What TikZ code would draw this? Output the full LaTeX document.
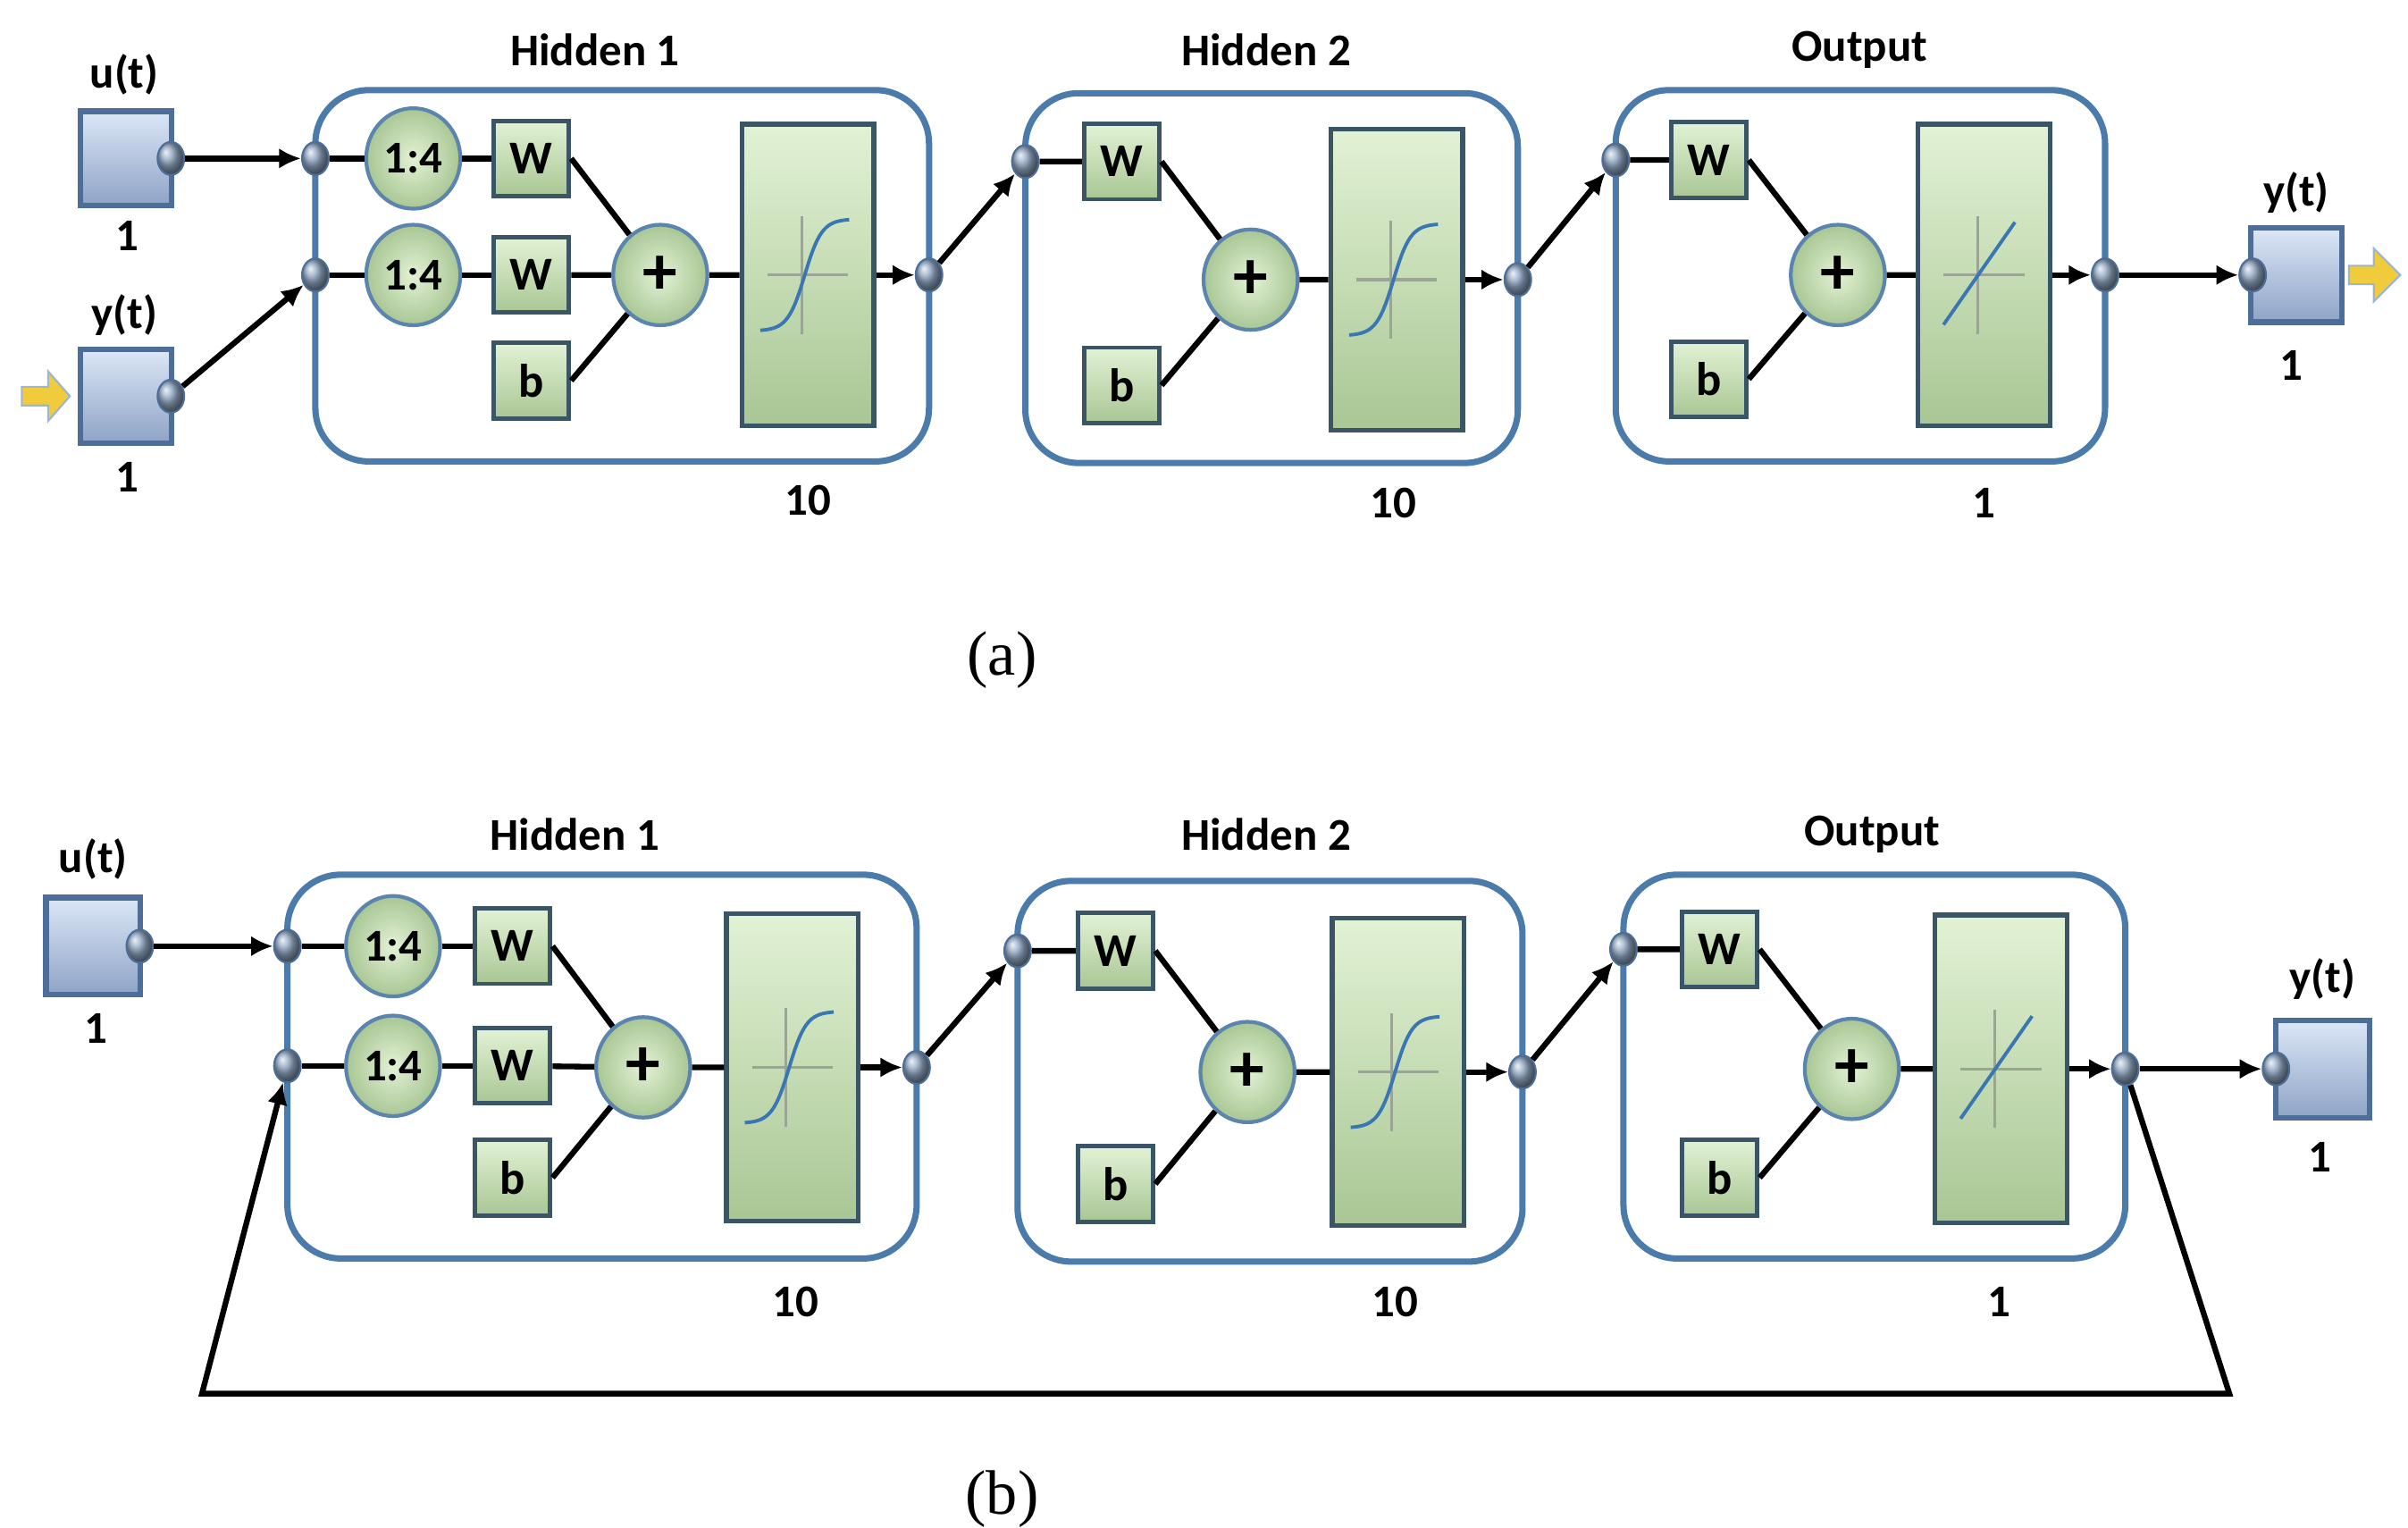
\documentclass[tikz,border=0pt]{standalone}
\usepackage{fontspec}
\setmainfont{Carlito}
\newfontfamily\capfont{Liberation Serif}
\usepackage{tikz}
\usetikzlibrary{arrows.meta,shapes.geometric}
\definecolor{frameblue}{HTML}{4B7BAA}
\definecolor{edgeblue}{HTML}{5B84AE}
\definecolor{boxedge}{HTML}{3A5566}
\definecolor{greentop}{HTML}{E2F2D5}
\definecolor{greenbot}{HTML}{A9C694}
\definecolor{iotop}{HTML}{DCE7F7}
\definecolor{iobot}{HTML}{8EA3C6}
\definecolor{ioedge}{HTML}{4C6E98}
\definecolor{portfill}{HTML}{8FA6C2}
\definecolor{sigblue}{HTML}{3A76B2}
\definecolor{axisgray}{HTML}{9AA595}
\definecolor{arrowyellow}{HTML}{F0CC3C}
\tikzset{
  lbl/.style={font=\fontsize{14.5}{16}\selectfont\bfseries, inner sep=0pt},
  sublabel/.style={font=\capfont\fontsize{20}{24}\selectfont, inner sep=0pt},
  conn/.style={line width=1.8pt, black},
  tip/.style={-{Latex[length=7pt,width=6.5pt]}},
  layerframe/.style={draw=frameblue, line width=2pt, rounded corners=17pt},
  port/.style={ellipse, minimum width=8.5pt, minimum height=10.5pt, inner sep=0pt, draw=ioedge, line width=0.6pt, ball color=portfill},
  roundbox/.style={ellipse, minimum width=30pt, minimum height=32pt, inner sep=0pt, draw=edgeblue, line width=1.2pt, inner color=greentop, outer color=greenbot, font=\fontsize{14.5}{16}\selectfont\bfseries},
  sumnode/.style={roundbox, font=\fontsize{22}{22}\selectfont\bfseries},
  wbox/.style={rectangle, minimum width=24pt, minimum height=24pt, inner sep=0pt, draw=boxedge, line width=1.4pt, top color=greentop, bottom color=greenbot, font=\fontsize{15}{16}\selectfont\bfseries},
  tfbox/.style={rectangle, minimum width=42pt, minimum height=96pt, inner sep=0pt, draw=boxedge, line width=1.5pt, top color=greentop, bottom color=greenbot},
  iobox/.style={rectangle, minimum width=29pt, minimum height=30pt, inner sep=0pt, draw=ioedge, line width=1.8pt, top color=iotop, bottom color=iobot},
  yarrow/.style={fill=arrowyellow, draw=edgeblue!60, line width=0.6pt},
  axisline/.style={axisgray, line width=0.9pt},
  sigline/.style={sigblue, line width=1.1pt}
}
\newcommand\tansig[1]{\begin{scope}[shift={(#1.center)}]
  \draw[axisline] (-26,0) -- (26,0) (-4,-38) -- (-4,38);
  \draw[sigline] plot[domain=-2.6:2.6,samples=40] ({-2+11*\x},{-36*tanh(\x)});
\end{scope}}
\newcommand\purelin[1]{\begin{scope}[shift={(#1.center)}]
  \draw[axisline] (-26,0) -- (26,0) (-4,-38) -- (-4,38);
  \draw[sigline] (-26,32) -- (20,-34);
\end{scope}}

\begin{document}
\begin{tikzpicture}[x=0.01739cm, y=-0.01739cm]
		%%%%% START %%%%%
		\useasboundingbox (0,0) rectangle (1550,983);
		
		%%%%% (a) %%%%%
		\draw[layerframe] (203,58) rectangle (598,297);
		\draw[layerframe] (660,60) rectangle (977,298);
		\draw[layerframe] (1040,58) rectangle (1355,297);
		
		\node[iobox] (ua) at (81,102) {};
		\node[port] (uao) at (110,102) {};
		\node[lbl] (ua-name) at (80,48) {u(t)};
		\node[lbl] (ua-size) at (82,152) {1};
		\node[iobox] (ya) at (81,255) {};
		\node[port] (yao) at (110,255) {};
		\node[lbl] (ya-name) at (80,203) {y(t)};
		\node[lbl] (ya-size) at (82,307) {1};
		\draw[yarrow] (14,249) -- (31,249) -- (31,239) -- (45,255) -- (31,271) -- (31,261) -- (14,261) -- cycle;
		
		\node[lbl] (h1a-title) at (383,32) {Hidden 1};
		\node[lbl] (h1a-size) at (520,322) {10};
		\node[roundbox] (d1a) at (266,102) {1:4};
		\node[roundbox] (d2a) at (266,177) {1:4};
		\node[wbox] (w1a) at (342,102) {W};
		\node[wbox] (w2a) at (342,177) {W};
		\node[wbox] (b1a) at (342,245) {b};
		\node[sumnode] (s1a) at (425,177) {+};
		\node[tfbox] (tf1a) at (520,177) {};
		\tansig{tf1a}
		\node[port] (p1a) at (203,102) {};
		\node[port] (p2a) at (203,177) {};
		\node[port] (o1a) at (598,177) {};
		
		\node[lbl] (h2a-title) at (815,32) {Hidden 2};
		\node[lbl] (h2a-size) at (897,324) {10};
		\node[wbox] (w3a) at (722,104) {W};
		\node[wbox] (b2a) at (722,248) {b};
		\node[sumnode] (s2a) at (805,180) {+};
		\node[tfbox] (tf2a) at (899,180) {};
		\tansig{tf2a}
		\node[port] (p3a) at (660,104) {};
		\node[port] (o2a) at (977,180) {};
		
		\node[lbl] (h3a-title) at (1197,32) {Output};
		\node[lbl] (h3a-size) at (1277,324) {1};
		\node[wbox] (w4a) at (1100,103) {W};
		\node[wbox] (b3a) at (1100,244) {b};
		\node[sumnode] (s3a) at (1183,177) {+};
		\node[tfbox] (tf3a) at (1277,177) {};
		\purelin{tf3a}
		\node[port] (p4a) at (1040,103) {};
		\node[port] (o3a) at (1355,177) {};
		
		\node[iobox] (youta) at (1478,177) {};
		\node[port] (youtai) at (1450,177) {};
		\node[lbl] (youta-name) at (1478,124) {y(t)};
		\node[lbl] (youta-size) at (1475,235) {1};
		\draw[yarrow] (1512,171) -- (1528,171) -- (1528,160) -- (1545,177) -- (1528,194) -- (1528,183) -- (1512,183) -- cycle;
		
		\draw[conn,tip] (uao) -- (p1a);
		\draw[conn,tip] (yao) -- (p2a);
		\draw[conn] (p1a) -- (d1a) (d1a) -- (w1a) (p2a) -- (d2a) (d2a) -- (w2a);
		\draw[conn] (w1a.east) -- (s1a) (w2a) -- (s1a) (b1a.east) -- (s1a) (s1a) -- (tf1a);
		\draw[conn,tip] (tf1a) -- (o1a);
		\draw[conn,tip] (o1a) -- (p3a);
		\draw[conn] (p3a) -- (w3a) (w3a.east) -- (s2a) (b2a.east) -- (s2a) (s2a) -- (tf2a);
		\draw[conn,tip] (tf2a) -- (o2a);
		\draw[conn,tip] (o2a) -- (p4a);
		\draw[conn] (p4a) -- (w4a) (w4a.east) -- (s3a) (b3a.east) -- (s3a) (s3a) -- (tf3a);
		\draw[conn,tip] (tf3a) -- (o3a);
		\draw[conn,tip] (o3a) -- (youtai);
		
		\node[sublabel] (cap-a) at (645,425) {(a)};
		
		%%%%% (b) %%%%%
		\draw[layerframe] (185,563) rectangle (590,810);
		\draw[layerframe] (655,567) rectangle (980,812);
		\draw[layerframe] (1045,563) rectangle (1368,810);
		
		\node[iobox, minimum width=30pt, minimum height=31pt] (ub) at (60,609) {};
		\node[port] (ubo) at (90,609) {};
		\node[lbl] (ub-name) at (60,553) {u(t)};
		\node[lbl] (ub-size) at (62,662) {1};
		
		\node[lbl] (h1b-title) at (370,537) {Hidden 1};
		\node[lbl] (h1b-size) at (512,838) {10};
		\node[roundbox] (d1b) at (253,609) {1:4};
		\node[roundbox] (d2b) at (253,686) {1:4};
		\node[wbox] (w1b) at (330,609) {W};
		\node[wbox] (w2b) at (330,686) {W};
		\node[wbox] (b1b) at (330,758) {b};
		\node[sumnode] (s1b) at (414,687) {+};
		\node[tfbox, minimum height=98pt] (tf1b) at (510,687) {};
		\tansig{tf1b}
		\node[port] (p1b) at (185,609) {};
		\node[port] (p2b) at (185,686) {};
		\node[port] (o1b) at (590,687) {};
		
		\node[lbl] (h2b-title) at (815,537) {Hidden 2};
		\node[lbl] (h2b-size) at (898,838) {10};
		\node[wbox] (w3b) at (718,612) {W};
		\node[wbox] (b2b) at (718,762) {b};
		\node[sumnode] (s2b) at (803,690) {+};
		\node[tfbox, minimum height=98pt] (tf2b) at (900,690) {};
		\tansig{tf2b}
		\node[port] (p3b) at (655,612) {};
		\node[port] (o2b) at (980,690) {};
		
		\node[lbl] (h3b-title) at (1205,537) {Output};
		\node[lbl] (h3b-size) at (1287,838) {1};
		\node[wbox] (w4b) at (1107,611) {W};
		\node[wbox] (b3b) at (1107,758) {b};
		\node[sumnode] (s3b) at (1192,688) {+};
		\node[tfbox, minimum height=98pt] (tf3b) at (1288,688) {};
		\purelin{tf3b}
		\node[port] (p4b) at (1045,611) {};
		\node[port] (o3b) at (1368,688) {};
		
		\node[iobox, minimum width=30pt, minimum height=31pt] (youtb) at (1495,688) {};
		\node[port] (youtbi) at (1465,688) {};
		\node[lbl] (youtb-name) at (1495,630) {y(t)};
		\node[lbl] (youtb-size) at (1493,745) {1};
		
		\coordinate (fb-r) at (1435,897);
		\coordinate (fb-l) at (130,897);
		
		\draw[conn,tip] (ubo) -- (p1b);
		\draw[conn] (p1b) -- (d1b) (d1b) -- (w1b) (p2b) -- (d2b) (d2b) -- (w2b);
		\draw[conn] (w1b.east) -- (s1b) (w2b) -- (s1b) (b1b.east) -- (s1b) (s1b) -- (tf1b);
		\draw[conn,tip] (tf1b) -- (o1b);
		\draw[conn,tip] (o1b) -- (p3b);
		\draw[conn] (p3b) -- (w3b) (w3b.east) -- (s2b) (b2b.east) -- (s2b) (s2b) -- (tf2b);
		\draw[conn,tip] (tf2b) -- (o2b);
		\draw[conn,tip] (o2b) -- (p4b);
		\draw[conn] (p4b) -- (w4b) (w4b.east) -- (s3b) (b3b.east) -- (s3b) (s3b) -- (tf3b);
		\draw[conn,tip] (tf3b) -- (o3b);
		\draw[conn,tip] (o3b) -- (youtbi);
		\draw[conn,tip] (o3b) -- (fb-r) -- (fb-l) -- (p2b);
		
		\node[sublabel] (cap-b) at (645,965) {(b)};
		%%%%% END %%%%%
\end{tikzpicture}
\end{document}
